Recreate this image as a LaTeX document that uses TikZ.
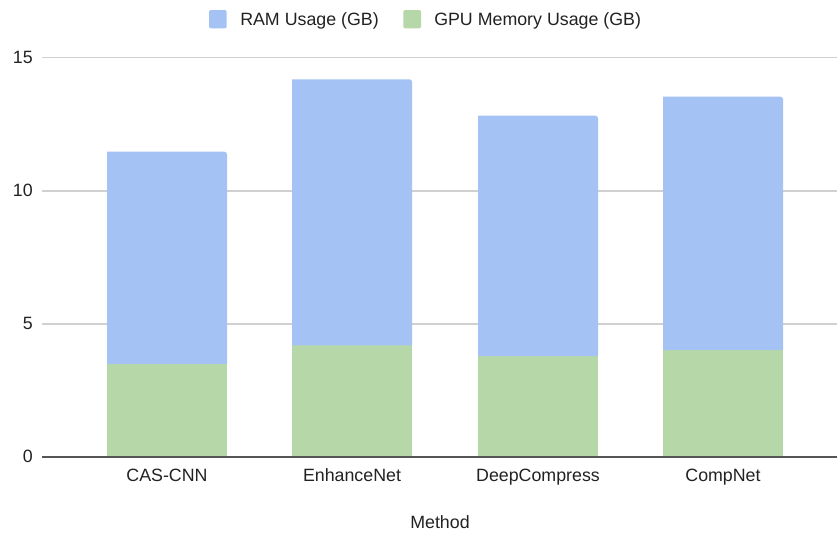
\documentclass[tikz,border=0pt]{standalone}
\usepackage{fontspec}
\setmainfont{Liberation Sans}
\definecolor{ramblue}{HTML}{A4C2F4}
\definecolor{gpugreen}{HTML}{B6D7A8}
\definecolor{gridgray}{HTML}{D0D0D0}
\definecolor{axisgray}{HTML}{555555}
\definecolor{labelgray}{HTML}{222222}
\begin{document}
\begin{tikzpicture}[x=0.75pt,y=-0.75pt,
  every node/.style={font=\fontsize{13.35}{15}\selectfont, text=labelgray, inner sep=0pt},
  gridline/.style={draw=gridgray, line width=1.1pt},
  baseaxis/.style={draw=axisgray, line width=1.5pt},
  rambar/.style={fill=ramblue},
  gpubar/.style={fill=gpugreen},
  ticklabel/.style={anchor=base east},
  catlabel/.style={anchor=base},
  legkey/.style={rounded corners=1.5pt}]
  \useasboundingbox (0,0) rectangle (837,532);
  \fill[white] (0,0) rectangle (837,532);

  % horizontal grid lines and their values
  \foreach \py in {324, 191, 57.5}{
    \draw[gridline] (42,\py) -- (837,\py);
  }
  \node[ticklabel] (t0)  at (33,462.3) {0};
  \node[ticklabel] (t5)  at (33,329.6) {5};
  \node[ticklabel] (t10) at (33,196.6) {10};
  \node[ticklabel] (t15) at (33,63.1)  {15};

  % stacked bars: GPU memory at the bottom, RAM on top
  \foreach \xa/\top/\mid in {107/151.7/363.7, 292/79.3/345.3, 478/115.7/356, 663/96.7/350}{
    \fill[gpubar] (\xa,456.7) rectangle (\xa+120,\mid);
    \fill[rambar, rounded corners=2pt] (\xa,\mid) [sharp corners] -- (\xa,\top) [rounded corners=2pt] -- (\xa+120,\top) [sharp corners]-- (\xa+120,\mid) -- cycle;
    \fill[rambar] (\xa,\mid) rectangle (\xa+120,\top+3);
  }

  % x axis
  \draw[baseaxis] (42,456.7) -- (837,456.7);

  % category labels
  \node[catlabel] (c1) at (167,481) {CAS-CNN};
  \node[catlabel] (c2) at (352,481) {EnhanceNet};
  \node[catlabel] (c3) at (538,481) {DeepCompress};
  \node[catlabel] (c4) at (723,481) {CompNet};
  \node[catlabel] (xt) at (440,528) {Method};

  % legend
  \fill[ramblue, legkey] (209,10) rectangle (226.7,28.3);
  \node[anchor=base west] (l1) at (240,25) {RAM Usage (GB)};
  \fill[gpugreen, legkey] (403.3,10) rectangle (421,28.3);
  \node[anchor=base west] (l2) at (434,25) {GPU Memory Usage (GB)};
\end{tikzpicture}
\end{document}
